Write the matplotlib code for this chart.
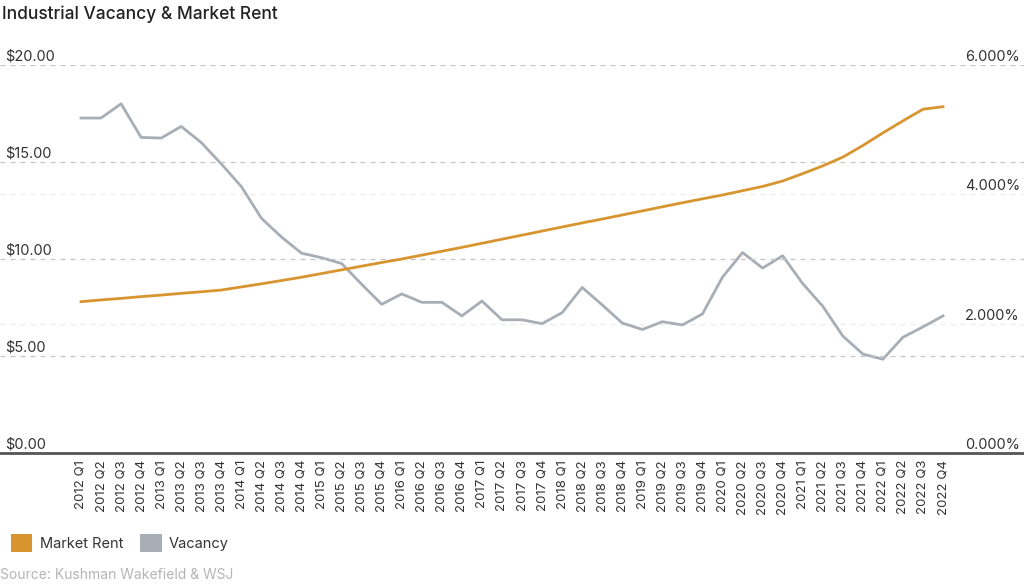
import matplotlib
matplotlib.use('Agg')
import matplotlib.pyplot as plt
import matplotlib.transforms as mtransforms
from matplotlib.patches import Patch
import numpy as np

# quarters 2012 Q1 .. 2022 Q4
quarters = [f'{y} Q{q}' for y in range(2012, 2023) for q in range(1, 5)]

market_rent = [7.80, 7.89, 7.97, 8.06,
               8.14, 8.23, 8.31, 8.40,
               8.56, 8.72, 8.89, 9.06,
               9.25, 9.44, 9.63, 9.82,
               10.00, 10.20, 10.40, 10.60,
               10.81, 11.02, 11.23, 11.44,
               11.65, 11.86, 12.06, 12.27,
               12.48, 12.69, 12.90, 13.10,
               13.30, 13.52, 13.74, 14.02,
               14.40, 14.80, 15.25, 15.85,
               16.50, 17.12, 17.72, 17.85]

vacancy = [5.18, 5.18, 5.40, 4.88,
           4.87, 5.05, 4.80, 4.47,
           4.12, 3.63, 3.34, 3.09,
           3.02, 2.93, 2.61, 2.30,
           2.46, 2.33, 2.33, 2.12,
           2.35, 2.06, 2.06, 2.00,
           2.17, 2.56, 2.29, 2.01,
           1.91, 2.03, 1.98, 2.15,
           2.72, 3.10, 2.86, 3.05,
           2.62, 2.27, 1.81, 1.53,
           1.45, 1.79, 1.95, 2.12]

rent_ticks = [0, 5, 10, 15, 20]
vac_ticks = [0, 2, 4, 6]

RENT_COLOR = '#D8952F'
VAC_COLOR = '#A8AEB6'
TEXT_COLOR = '#333333'

plt.rcParams['font.family'] = ['Inter', 'DejaVu Sans']

fig = plt.figure(figsize=(10.24, 5.88), dpi=100)
ax = fig.add_axes([0, 135 / 588, 1, (453 - 65) / 588])
ax2 = ax.twinx()

x = np.arange(len(quarters))
ax.set_xlim(-81 / 20.05, len(quarters) - 1 + 81 / 20.05)
ax.set_ylim(0, 20)
ax2.set_ylim(0, 6)

# gridlines
for v in rent_ticks[1:]:
    ax.axhline(v, color='#c4c4c4', lw=0.9, ls=(0, (4, 4)), zorder=1)
for v in vac_ticks[1:3]:
    ax2.axhline(v, color='#ececec', lw=0.9, ls=(0, (4, 4)), zorder=1)

ax2.plot(x, vacancy, color=VAC_COLOR, lw=2.0, zorder=3)
ax.plot(x, market_rent, color=RENT_COLOR, lw=2.0, zorder=4)
ax.set_zorder(ax2.get_zorder() + 1)
ax.patch.set_visible(False)

for a in (ax, ax2):
    for s in a.spines.values():
        s.set_visible(False)
    a.set_yticks([])
ax.spines['bottom'].set_visible(True)
ax.spines['bottom'].set_color('#555555')
ax.spines['bottom'].set_linewidth(2)

# y labels drawn above the gridlines
off = mtransforms.offset_copy(ax.transData, fig=fig, x=0, y=5.8, units='points')
for v in rent_ticks:
    t = mtransforms.blended_transform_factory(ax.transAxes, off)
    ax.text(0.005, v, f'${v:.2f}', transform=t, ha='left', va='center',
            fontsize=10.5, color=TEXT_COLOR)
off2 = mtransforms.offset_copy(ax2.transData, fig=fig, x=0, y=5.8, units='points')
for v in vac_ticks:
    t = mtransforms.blended_transform_factory(ax2.transAxes, off2)
    ax2.text(0.996, v, f'{v:.3f}%', transform=t, ha='right', va='center',
             fontsize=10.5, color=TEXT_COLOR)

ax.set_xticks(x)
ax.set_xticklabels(quarters, rotation=90, fontsize=9.5, color=TEXT_COLOR)
ax.tick_params(axis='x', length=0, pad=5)

fig.text(0.002, 0.976, 'Industrial Vacancy & Market Rent', fontsize=12.5,
         fontweight='medium', color='#222222', ha='left', va='center')

handles = [Patch(facecolor=RENT_COLOR, label='Market Rent'),
           Patch(facecolor=VAC_COLOR, label='Vacancy')]
fig.legend(handles=handles, loc='center left', bbox_to_anchor=(-0.002, 1 - 543 / 588),
           ncol=2, frameon=False, fontsize=10.5, handlelength=1.45, handleheight=1.45,
           handletextpad=0.5, columnspacing=1.2, labelcolor=TEXT_COLOR)

fig.text(0.0, 1 - 575 / 588, 'Source: Kushman Wakefield & WSJ', fontsize=10,
         color='#b5b5b5', ha='left', va='center')

fig.savefig('out.png', dpi=100)
